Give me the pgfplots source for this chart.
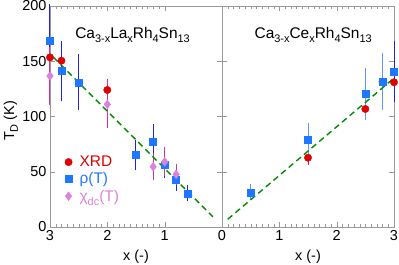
\documentclass[border=0pt]{standalone}
\usepackage{fontspec}
\setmainfont{Liberation Sans}
\usepackage{pgfplots}
\pgfplotsset{compat=1.18}
\definecolor{xrdred}{RGB}{225,0,0}
\definecolor{xrdbar}{RGB}{205,40,70}
\definecolor{rhoblue}{RGB}{30,120,255}
\definecolor{rhodark}{RGB}{35,35,210}
\definecolor{rholight}{RGB}{95,150,255}
\definecolor{chipink}{RGB}{220,130,220}
\definecolor{chibar}{RGB}{200,50,170}
\definecolor{fitgreen}{RGB}{0,140,0}
\newcommand\sub[1]{\raisebox{-0.5ex}{\fontsize{11}{11}\selectfont #1}}
\begin{document}
\begin{tikzpicture}
\path[use as bounding box] (-50bp,-38bp) rectangle (349bp,227bp);
\pgfplotsset{
 common/.style={
  scale only axis, width=172bp, height=221bp,
  ymin=0, ymax=200, xmin=0, xmax=3,
  axis line style={gray!80}, tick style={gray!80},
  minor x tick num=9,
  major tick length=5bp, minor tick length=3bp,
  tick label style={font=\fontsize{14.5}{16}\selectfont, black},
  label style={font=\fontsize{14.5}{16}\selectfont},
  /pgf/number format/assume math mode=true,
  xtick pos=both, xticklabel pos=lower,
  ytick={0,50,100,150,200}, ytick pos=both,
  clip=false,
 },
 xrd/.style={only marks, mark=*, color=xrdred, mark size=3.7bp,
   error bars/y dir=both, error bars/y explicit,
   error bars/error bar style={color=xrdbar, line width=1bp},
   error bars/error mark options={color=xrdbar, line width=1bp, mark size=2.5bp}},
 rho/.style={only marks, mark=square*, color=rhoblue, mark size=3.5bp,
   error bars/y dir=both, error bars/y explicit,
   error bars/error bar style={color=#1, line width=1bp},
   error bars/error mark options={color=#1, line width=1bp, mark size=2.5bp}},
 chi/.style={only marks, mark=diamond*, color=chipink, mark size=4.4bp,
   error bars/y dir=both, error bars/y explicit,
   error bars/error bar style={color=chibar, line width=1bp},
   error bars/error mark options={color=chibar, line width=1bp, mark size=2.5bp}},
 fit/.style={fitgreen, line width=1.4bp, dash pattern=on 6bp off 4bp},
}
\begin{axis}[common, x dir=reverse, xtick={1,2,3},
  xlabel={x (-)}, ylabel={T\sub{D} (K)},
  xlabel style={at={(axis description cs:0.5,-0.136)}, anchor=center},
  ylabel style={at={(axis description cs:-0.228,0.48)}, anchor=center},
  yticklabel pos=left,
  legend image code/.code={\draw[#1] plot coordinates {(0.3cm,0cm)}; \path[draw=none] (0cm,0cm) -- (0.62cm,0cm);},
  legend style={draw=none, fill=none, at={(axis description cs:0.04,0.34)}, anchor=north west,
    font=\fontsize{15.5}{17}\selectfont, row sep=0.5bp},
  legend cell align=left]
\addlegendimage{only marks, mark=*, color=xrdred, mark size=3.7bp}
\addlegendentry{\textcolor{xrdred}{XRD}}
\addlegendimage{only marks, mark=square*, color=rhoblue, mark size=3.5bp}
\addlegendentry{\textcolor{rhoblue}{ρ(T)}}
\addlegendimage{only marks, mark=diamond*, color=chipink, mark size=4.4bp}
\addlegendentry{\textcolor{chipink}{χ\sub{dc}(T)}}
\addplot[forget plot, xrd] coordinates {
 (3.0,153.5) +- (0,6)
 (2.8,150.5) +- (0,4)
 (2.0,124) +- (0,8)
};
\addplot[forget plot, rho=rhodark] coordinates {
 (3.0,168.5) +- (0,31)
 (2.8,141) +- (0,25)
 (2.5,131) +- (0,23)
 (1.5,65) +- (0,11.5)
 (1.2,77) +- (0,13.6)
 (1.0,56.7) +- (0,10)
 (0.8,42.5) +- (0,7.5)
 (0.6,30.5) +- (0,5)
};
\addplot[forget plot, chi] coordinates {
 (3.0,136.7) +- (0,24)
 (2.0,111) +- (0,19.5)
 (1.2,54.6) +- (0,10)
 (1.0,59) +- (0,11)
 (0.8,47.7) +- (0,7.5)
};
\addplot[forget plot, fit] coordinates {(2.94,153.6) (0.16,9.3)};
\node[font=\fontsize{15.5}{17}\selectfont] at (axis description cs:0.48,0.87)
  {Ca\sub{3-x}La\sub{x}Rh\sub{4}Sn\sub{13}};
\end{axis}
\begin{axis}[common, at={(172bp,0)}, xtick={0,1,2,3},
  xlabel={x (-)},
  xlabel style={at={(axis description cs:0.5,-0.136)}, anchor=center},
  yticklabels={}]
\addplot[xrd] coordinates {
 (1.5,62.7) +- (0,4)
 (2.5,106.8) +- (0,7.5)
 (2.8,131.5) +- (0,9.5)
 (3.0,131) +- (0,9.5)
};
\addplot[rho=rholight] coordinates {
 (0.5,31.4) +- (0,5)
 (1.5,78.7) +- (0,13.6)
 (2.5,120.4) +- (0,21.5)
 (2.8,131.5) +- (0,23.5)
};
\addplot[rho=rhodark] coordinates {
 (3.0,140.5) +- (0,25.5)
};
\addplot[fit] coordinates {(0.1,7) (2.96,133)};
\node[font=\fontsize{15.5}{17}\selectfont] at (axis description cs:0.53,0.87)
  {Ca\sub{3-x}Ce\sub{x}Rh\sub{4}Sn\sub{13}};
\end{axis}
\end{tikzpicture}
\end{document}
